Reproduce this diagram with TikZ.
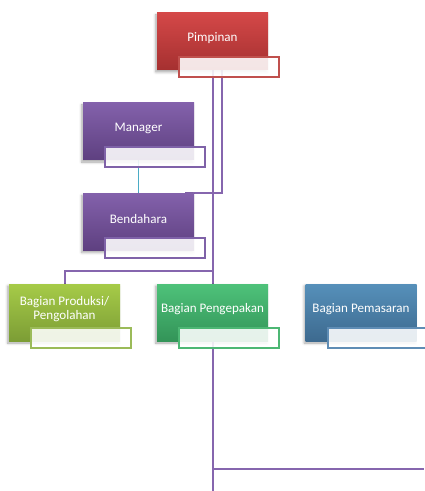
\documentclass[tikz,border=0pt]{standalone}
\usepackage{fontspec}
\setmainfont{Carlito}
\usetikzlibrary{backgrounds,shadows.blur}
\definecolor{redtop}{HTML}{D44848}
\definecolor{redbot}{HTML}{A53030}
\definecolor{redline}{HTML}{C0504D}
\definecolor{purpletop}{HTML}{8361AB}
\definecolor{purplebot}{HTML}{5E4080}
\definecolor{purpleline}{HTML}{7F62A8}
\definecolor{limetop}{HTML}{A6CB48}
\definecolor{limebot}{HTML}{7C9D35}
\definecolor{limeline}{HTML}{9BBB59}
\definecolor{greentop}{HTML}{4EC27A}
\definecolor{greenbot}{HTML}{339458}
\definecolor{greenline}{HTML}{4DB774}
\definecolor{bluetop}{HTML}{5690BA}
\definecolor{bluebot}{HTML}{3D6A8F}
\definecolor{blueline}{HTML}{5F8DB5}
\definecolor{conncol}{HTML}{8666AE}
\definecolor{tealcol}{HTML}{4BACC6}
\tikzset{
  box/.style={minimum width=83.25pt, minimum height=42.75pt, inner sep=0pt,
    top color=#1top, bottom color=#1bot,
    blur shadow={shadow xshift=-1pt, shadow yshift=-1.5pt, shadow opacity=35}},
  boxtext/.style={text=white, font=\fontsize{9.8}{10.5}\selectfont, align=center, inner sep=0pt},
  infobox/.style={draw=#1line, line width=1.2pt, fill=white, fill opacity=0.88,
    minimum width=75pt, minimum height=15pt, inner sep=0pt},
  conn/.style={draw=conncol, line width=1.5pt},
}
\begin{document}
\begin{tikzpicture}[x=0.75pt,y=-0.75pt]
  \useasboundingbox (0,0) rectangle (424,491);
  %
  \foreach \nm/\x/\y/\col/\txt in {pimpinan/212.5/41.5/red/Pimpinan,
      manager/138.5/131.5/purple/Manager, bendahara/138.5/222/purple/Bendahara,
      produksi/64.5/312.5/lime/{Bagian Produksi/\\Pengolahan},
      pengepakan/212.5/312.5/green/Bagian Pengepakan,
      pemasaran/361/312.5/blue/Bagian Pemasaran} {
    \node[box=\col] (\nm) at (\x,\y) {};
    \node[boxtext] (\nm-txt) at ([yshift=2.6pt]\nm.center) {\txt};
    \node[infobox=\col] (\nm-info) at ([xshift=-29.25pt,yshift=2.25pt]\nm.south east) {};
  }
  %
  \begin{pgfonlayer}{background}
    \coordinate (bottom) at (212.5,491);
    \coordinate (split) at (212.5,271);
    \coordinate (rightend) at (424,469);
    \draw[conn] (pimpinan.south) -- (bottom);
    \draw[conn] ([xshift=6.75pt]pimpinan.south) |- ([xshift=-6.75pt]bendahara.north east);
    \draw[conn, draw=tealcol, line width=1pt] (manager.south) -- (bendahara.north);
    \draw[conn] (split) -| (produksi.north);
    \draw[conn] (bottom |- rightend) -- (rightend);
  \end{pgfonlayer}
\end{tikzpicture}
\end{document}
